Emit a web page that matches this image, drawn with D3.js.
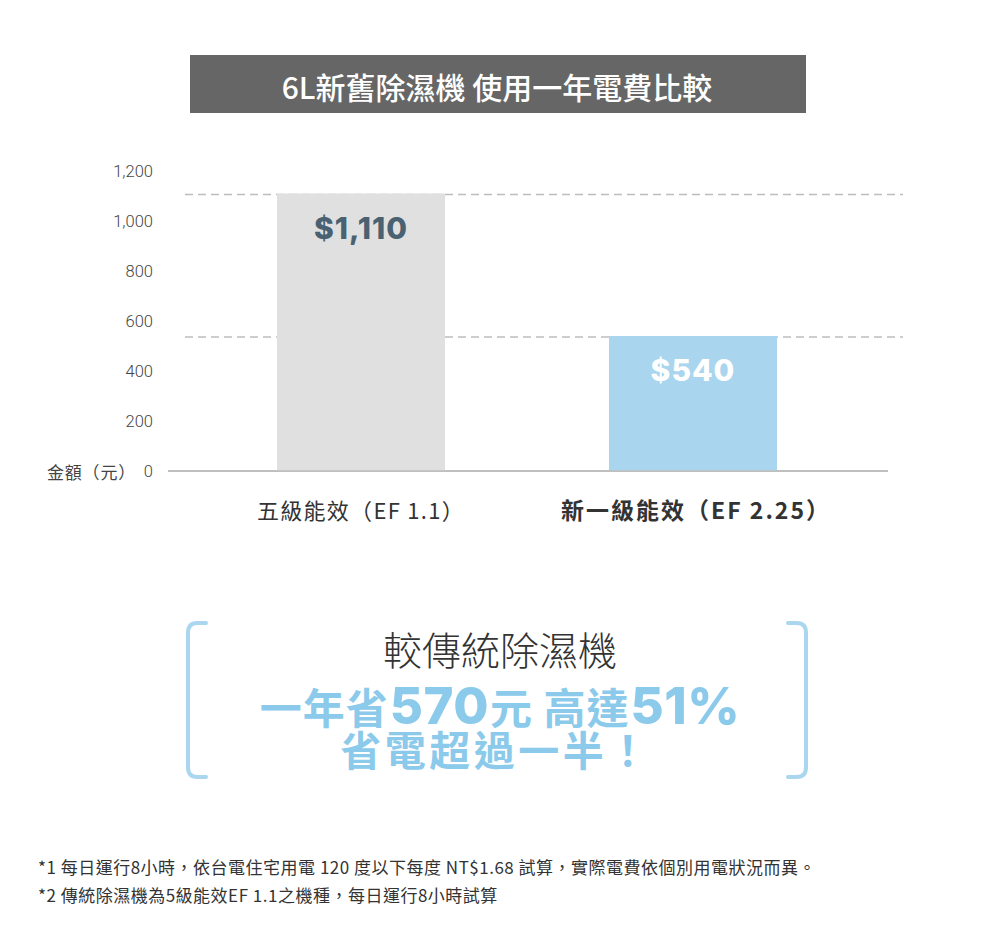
<!DOCTYPE html>
<html>
<head>
<meta charset="utf-8">
<script src="https://cdn.jsdelivr.net/npm/d3@7"></script>
<style>
  html, body { margin: 0; padding: 0; background: #fff; }
  svg { display: block; }
</style>
</head>
<body>
<svg id="chart" width="1000" height="931"></svg>
<script>
// ---- data ----
const titleText = "6L新舊除濕機 使用一年電費比較";
const categories = ["五級能效（EF 1.1）", "新一級能效（EF 2.25）"];
const values = [1110, 540];
const valueLabels = ["$1,110", "$540"];
const yTicks = [0, 200, 400, 600, 800, 1000, 1200];
const yAxisTitle = "金額（元）";
const calloutLine1 = "較傳統除濕機";
const calloutLine2 = [["一年省", "cjk"], ["570", "num"], ["元 高達", "cjk"], ["51%", "num"]];
const calloutLine3 = "省電超過一半！";
const footnotes = [
  "*1 每日運行8小時，依台電住宅用電 120 度以下每度 NT$1.68 試算，實際電費依個別用電狀況而異。",
  "*2 傳統除濕機為5級能效EF 1.1之機種，每日運行8小時試算"
];

// ---- styles ----
const CJK = "'Noto Sans CJK TC', 'Noto Sans', sans-serif";
const NUM = "Inter, 'Noto Sans', sans-serif";
const barColors = ["#e0e0e0", "#a9d5ee"];
const labelColors = ["#4a6172", "#ffffff"];
const accent = "#8ccaeb";
const bracketColor = "#abd6ef";

const svg = d3.select("#chart");

// title bar
svg.append("rect").attr("x", 190).attr("y", 55).attr("width", 616).attr("height", 58).attr("fill", "#666666");
svg.append("text").attr("x", 497).attr("y", 86).attr("text-anchor", "middle").attr("dominant-baseline", "central")
  .attr("font-family", CJK).attr("font-weight", 500).attr("font-size", 30).attr("fill", "#fff").text(titleText);

// scales
const y = d3.scaleLinear().domain([0, 1200]).range([471, 171]);
const x = d3.scaleBand().domain(categories).range([195, 859]).paddingInner(0.494).paddingOuter(0.247);

// y axis
const yAxis = svg.append("g").attr("transform", "translate(158,0)")
  .call(d3.axisLeft(y).tickValues(yTicks).tickSize(0).tickPadding(5).tickFormat(d3.format(",")));
yAxis.select(".domain").remove();
yAxis.selectAll("text").attr("font-family", "Roboto, 'Noto Sans', sans-serif").attr("font-weight", 300)
  .attr("font-size", 16.5).attr("fill", "#444");

svg.append("text").attr("x", 136).attr("y", y(0)).attr("text-anchor", "end").attr("dominant-baseline", "central")
  .attr("font-family", CJK).attr("font-size", 17).attr("letter-spacing", 0.8).attr("fill", "#444").text(yAxisTitle);

// reference dashed lines at bar values
svg.append("g").selectAll("line").data(values).join("line")
  .attr("x1", 185).attr("x2", 903)
  .attr("y1", d => y(d) + 1).attr("y2", d => y(d) + 1)
  .attr("stroke", "#bdbdbd").attr("stroke-width", 1.3).attr("stroke-dasharray", "8,5");

// baseline
svg.append("line").attr("x1", 168).attr("x2", 888).attr("y1", y(0)).attr("y2", y(0))
  .attr("stroke", "#aaaaaa").attr("stroke-width", 1.5);

// bars
svg.append("g").selectAll("rect").data(values).join("rect")
  .attr("x", (d, i) => x(categories[i])).attr("width", x.bandwidth())
  .attr("y", d => y(d)).attr("height", d => y(0) - y(d) - 0.75)
  .attr("fill", (d, i) => barColors[i]);

// value labels
svg.append("g").selectAll("text").data(values).join("text")
  .attr("x", (d, i) => x(categories[i]) + x.bandwidth() / 2)
  .attr("y", d => y(d) + 45)
  .attr("text-anchor", "middle")
  .attr("font-family", NUM).attr("font-weight", 800).attr("font-size", 30).attr("letter-spacing", 1)
  .attr("fill", (d, i) => labelColors[i])
  .text((d, i) => valueLabels[i]);

// category labels
svg.append("g").selectAll("text").data(categories).join("text")
  .attr("x", (d, i) => x(d) + x.bandwidth() / 2 + (i === 0 ? 0 : 3))
  .attr("y", 509)
  .attr("text-anchor", "middle").attr("dominant-baseline", "central")
  .attr("font-family", CJK)
  .attr("font-size", (d, i) => i === 0 ? 22 : 23)
  .attr("font-weight", (d, i) => i === 0 ? 400 : 700)
  .attr("letter-spacing", (d, i) => i === 0 ? 1.3 : 2.0)
  .attr("fill", "#333").text(d => d);

// callout brackets
const br = d3.path();
br.moveTo(206, 623); br.lineTo(197, 623); br.quadraticCurveTo(188, 623, 188, 633);
br.lineTo(188, 767); br.quadraticCurveTo(188, 777, 197, 777); br.lineTo(206, 777);
br.moveTo(788, 623); br.lineTo(797, 623); br.quadraticCurveTo(806, 623, 806, 633);
br.lineTo(806, 767); br.quadraticCurveTo(806, 777, 797, 777); br.lineTo(788, 777);
svg.append("path").attr("d", br.toString()).attr("fill", "none")
  .attr("stroke", bracketColor).attr("stroke-width", 4).attr("stroke-linecap", "round");

svg.append("text").attr("x", 500).attr("y", 648).attr("text-anchor", "middle").attr("dominant-baseline", "central")
  .attr("font-family", CJK).attr("font-weight", 300).attr("font-size", 39).attr("fill", "#333").text(calloutLine1);

const l2 = svg.append("text").attr("x", 500).attr("y", 724).attr("text-anchor", "middle")
  .attr("fill", accent).attr("font-weight", 700);
l2.selectAll("tspan").data(calloutLine2).join("tspan")
  .attr("font-family", d => d[1] === "num" ? NUM : CJK)
  .attr("font-weight", d => d[1] === "num" ? 800 : 700)
  .attr("font-size", d => d[1] === "num" ? 51 : 42)
  .attr("letter-spacing", d => d[1] === "num" ? 0.5 : 1)
  .attr("dx", (d, i) => i === 0 ? 0 : 1)
  .text(d => d[0]);

svg.append("text").attr("x", 496).attr("y", 748).attr("text-anchor", "middle").attr("dominant-baseline", "central")
  .attr("font-family", CJK).attr("font-weight", 700).attr("font-size", 41).attr("letter-spacing", 3.5)
  .attr("fill", accent).text(calloutLine3);

// footnotes
svg.append("g").selectAll("text").data(footnotes).join("text")
  .attr("x", 38).attr("y", (d, i) => 874 + i * 28)
  .attr("font-family", CJK).attr("font-size", 17).attr("letter-spacing", 0.5).attr("fill", "#333").text(d => d);
</script>
</body>
</html>
